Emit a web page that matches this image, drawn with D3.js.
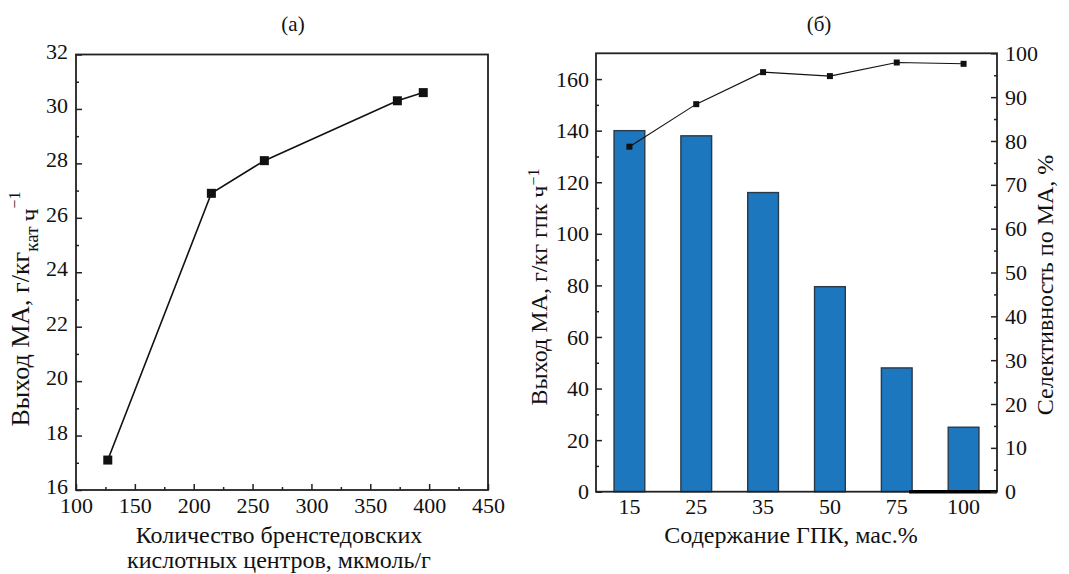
<!DOCTYPE html>
<html>
<head>
<meta charset="utf-8">
<script src="https://cdn.jsdelivr.net/npm/d3@7"></script>
<style>
  body { margin: 0; background: #fff; }
  svg text { font-family: "Liberation Serif", "Times New Roman", serif; fill: #111; }
  .domain { display: none; }
  .tick line { stroke: #222; stroke-width: 1.5; }
</style>
</head>
<body>
<svg id="chart" width="1069" height="574"></svg>
<script>
// Panel (a): yield vs amount of Brønsted acid sites
const acidSites = [127, 215, 260, 373, 395];
const yieldA = [17.1, 26.9, 28.1, 30.3, 30.6];
const ticksAx = [100, 150, 200, 250, 300, 350, 400, 450];
const ticksAy = [16, 18, 20, 22, 24, 26, 28, 30, 32];

// Panel (б): yield (bars) and selectivity (line) vs HPA content
const hpaContent = ["15", "25", "35", "50", "75", "100"];
const yieldB = [140, 138, 116, 79.5, 48, 25];
const selectivity = [78.7, 88.4, 95.7, 94.8, 97.9, 97.6];
const ticksByLeft = [0, 20, 40, 60, 80, 100, 120, 140, 160];
const ticksByRight = [0, 10, 20, 30, 40, 50, 60, 70, 80, 90, 100];

const svg = d3.select("#chart");

// helper: minor ticks halfway between majors
function minors(major) {
  let out = [];
  for (let i = 0; i < major.length - 1; i++) out.push((major[i] + major[i + 1]) / 2);
  return out;
}

// serif tick labels, set inline so the axis defaults don't win
function styleTicks(g) {
  g.selectAll("text")
    .style("font-family", "'Liberation Serif', 'Times New Roman', serif")
    .style("font-size", "22px");
}

// ---------- panel (а) ----------
const a = {left: 76, right: 488, top: 54.5, bottom: 490};
const xA = d3.scaleLinear().domain([100, 450]).range([a.left, a.right]);
const yA = d3.scaleLinear().domain([16, 32]).range([a.bottom, a.top]);

svg.append("rect")
  .attr("x", a.left).attr("y", a.top)
  .attr("width", a.right - a.left).attr("height", a.bottom - a.top)
  .attr("fill", "none").attr("stroke", "#222").attr("stroke-width", 1.8);

svg.append("g").attr("transform", `translate(0,${a.bottom})`)
  .call(d3.axisBottom(xA).tickValues(ticksAx).tickSize(-6).tickPadding(7).tickFormat(d3.format("d")))
  .call(styleTicks);
svg.append("g").attr("transform", `translate(0,${a.bottom})`)
  .call(d3.axisBottom(xA).tickValues(minors(ticksAx)).tickSize(-3).tickFormat(""));
svg.append("g").attr("transform", `translate(${a.left},0)`)
  .call(d3.axisLeft(yA).tickValues(ticksAy).tickSize(-6).tickPadding(8).tickFormat(d3.format("d")))
  .call(styleTicks)
  .selectAll("text").attr("dy", "0.16em");
svg.append("g").attr("transform", `translate(${a.left},0)`)
  .call(d3.axisLeft(yA).tickValues(minors(ticksAy)).tickSize(-3).tickFormat(""));

const ptsA = acidSites.map((d, i) => [d, yieldA[i]]);
svg.append("path")
  .datum(ptsA)
  .attr("fill", "none").attr("stroke", "#111").attr("stroke-width", 1.6)
  .attr("d", d3.line().x(d => xA(d[0])).y(d => yA(d[1])));
svg.selectAll(".markA").data(ptsA).enter().append("rect")
  .attr("class", "markA")
  .attr("x", d => xA(d[0]) - 4.5).attr("y", d => yA(d[1]) - 4.5)
  .attr("width", 9).attr("height", 9).attr("fill", "#111");

svg.append("text").attr("x", 293).attr("y", 31).attr("text-anchor", "middle")
  .style("font-size", "21px").text("(а)");

// y title: "ч" sits on the subscript line, as in the source figure
const labA = svg.append("text")
  .attr("transform", "translate(29,309) rotate(-90)")
  .attr("text-anchor", "middle").style("font-size", "26px");
labA.append("tspan").text("Выход МА, г/кг");
labA.append("tspan").attr("baseline-shift", "-9").style("font-size", "19px").text("кат");
labA.append("tspan").attr("dx", 5).attr("baseline-shift", "-9").text("ч");
labA.append("tspan").attr("baseline-shift", "9").style("font-size", "16px").text("−1");

svg.append("text").attr("x", 279).attr("y", 543).attr("text-anchor", "middle")
  .style("font-size", "24px").text("Количество бренстедовских");
svg.append("text").attr("x", 279).attr("y", 568).attr("text-anchor", "middle")
  .style("font-size", "24px").text("кислотных центров, мкмоль/г");

// ---------- panel (б) ----------
const b = {left: 596, right: 997, top: 53.3, bottom: 491.7};
const xB = d3.scaleBand().domain(hpaContent).range([b.left, b.right])
  .paddingInner(0.54).paddingOuter(0.27);
const yB = d3.scaleLinear().domain([0, 170]).range([b.bottom, b.top]);
const yS = d3.scaleLinear().domain([0, 100]).range([b.bottom, b.top]);

svg.selectAll(".bar").data(hpaContent).enter().append("rect")
  .attr("class", "bar")
  .attr("x", d => xB(d))
  .attr("y", (d, i) => yB(yieldB[i]))
  .attr("width", xB.bandwidth())
  .attr("height", (d, i) => b.bottom - yB(yieldB[i]))
  .attr("fill", "#1c77bf").attr("stroke", "#2b3a48").attr("stroke-width", 1.4);

svg.append("rect")
  .attr("x", b.left).attr("y", b.top)
  .attr("width", b.right - b.left).attr("height", b.bottom - b.top)
  .attr("fill", "none").attr("stroke", "#222").attr("stroke-width", 1.8);

// heavy stretch of the baseline under the last two bars
svg.append("line")
  .attr("x1", xB("75") + xB.bandwidth() - 3).attr("x2", b.right)
  .attr("y1", b.bottom).attr("y2", b.bottom)
  .attr("stroke", "#000").attr("stroke-width", 3.5);

svg.append("g").attr("transform", `translate(0,${b.bottom})`)
  .call(d3.axisBottom(xB).tickSize(0).tickPadding(7))
  .call(styleTicks);
svg.append("g").attr("transform", `translate(${b.left},0)`)
  .call(d3.axisLeft(yB).tickValues(ticksByLeft).tickSize(-6).tickPadding(7))
  .call(styleTicks);
svg.append("g").attr("transform", `translate(${b.left},0)`)
  .call(d3.axisLeft(yB).tickValues(minors(ticksByLeft)).tickSize(-3).tickFormat(""));
svg.append("g").attr("transform", `translate(${b.right},0)`)
  .call(d3.axisRight(yS).tickValues(ticksByRight).tickSize(-6).tickPadding(8))
  .call(styleTicks);
svg.append("g").attr("transform", `translate(${b.right},0)`)
  .call(d3.axisRight(yS).tickValues(minors(ticksByRight)).tickSize(-3).tickFormat(""));

const cx = d => xB(d) + xB.bandwidth() / 2;
svg.append("path")
  .datum(hpaContent)
  .attr("fill", "none").attr("stroke", "#111").attr("stroke-width", 1.1)
  .attr("d", d3.line().x(d => cx(d)).y((d, i) => yS(selectivity[i])));
svg.selectAll(".markB").data(hpaContent).enter().append("rect")
  .attr("class", "markB")
  .attr("x", d => cx(d) - 3).attr("y", (d, i) => yS(selectivity[i]) - 3)
  .attr("width", 6).attr("height", 6).attr("fill", "#111");

svg.append("text").attr("x", 819).attr("y", 31).attr("text-anchor", "middle")
  .style("font-size", "21px").text("(б)");

const labB = svg.append("text")
  .attr("transform", "translate(547,287) rotate(-90)")
  .attr("text-anchor", "middle").style("font-size", "24px");
labB.append("tspan").text("Выход МА, г/кг гпк ч");
labB.append("tspan").attr("baseline-shift", "super").style("font-size", "16px").text("−1");

svg.append("text")
  .attr("transform", "translate(1053,285) rotate(-90)")
  .attr("text-anchor", "middle").style("font-size", "24px")
  .text("Селективность по МА, %");

svg.append("text").attr("x", 791).attr("y", 543).attr("text-anchor", "middle")
  .style("font-size", "24px").text("Содержание ГПК, мас.%");
</script>
</body>
</html>
